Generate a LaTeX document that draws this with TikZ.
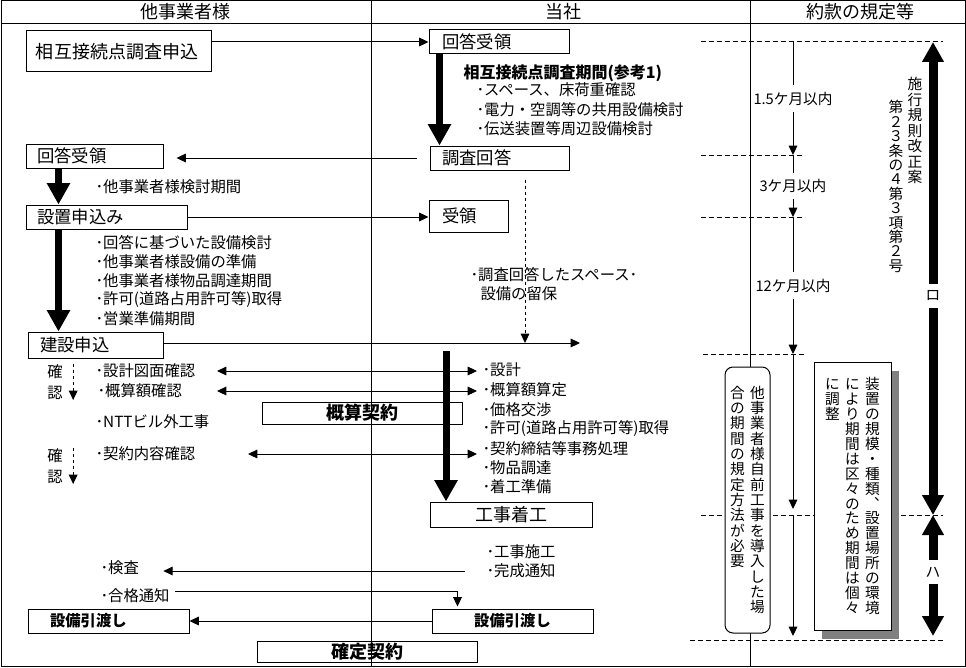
\documentclass[tikz,border=0pt]{standalone}
\usepackage{fontspec}
\setmainfont{Noto Sans CJK JP}
\usetikzlibrary{arrows.meta, positioning, shadows}

\newcommand\boxfont{\fontsize{13pt}{15pt}\selectfont}
\newcommand\bigboxfont{\fontsize{13.5pt}{16pt}\selectfont}
\newcommand\itemfont{\fontsize{11.5pt}{13pt}\selectfont}
\newcommand\notefont{\fontsize{11pt}{13pt}\selectfont}

% vertical (tategaki) column, one character per line
\makeatletter
\newcommand\tate[2][11.5pt]{\vtop{\baselineskip=#1\lineskip=0pt\lineskiplimit=-20pt\tate@#2\@nil}}
\def\tate@#1{\ifx#1\@nil\else\hbox to 1em{\hss#1\hss}\expandafter\tate@\fi}
\makeatother

\begin{document}
\begin{tikzpicture}[x=0.75pt, y=-0.75pt, line width=0.75pt,
  box/.style={draw, inner sep=0pt, font=\boxfont},
  lbox/.style={box, align=left},
  item/.style={anchor=west, inner sep=0pt, font=\itemfont},
  note/.style={inner xsep=1pt, inner ysep=5pt, font=\notefont},
  thinarr/.style={-{Triangle[length=7pt,width=6.5pt]}},
  dblarr/.style={{Triangle[length=7pt,width=6.5pt]}-{Triangle[length=7pt,width=6.5pt]}},
  bigarr/.style={line width=5.25pt, -{Triangle[length=16pt,width=16.5pt]}},
  rulearr/.style={line width=6.75pt, -{Triangle[length=15pt,width=15.5pt]}},
  dashline/.style={dash pattern=on 3.5pt off 2.5pt},
  dasharr/.style={thinarr, dash pattern=on 2.5pt off 2pt}]
  \useasboundingbox (0,0) rectangle (966,667);

  % Frame and columns
  \draw (1,1) rectangle (965,666);
  \draw (1,24) -- (965,24);
  \draw (371,1) -- (371,666);
  \draw (750,1) -- (750,666);
  \node[font=\bigboxfont] (h1) at (185,12) {他事業者様};
  \node[font=\bigboxfont] (h2) at (563,12) {当社};
  \node[font=\bigboxfont] (h3) at (860,12) {約款の規定等};

  % Boxes
  \node[lbox, font=\bigboxfont, text width=123.75pt, inner xsep=7.5pt, minimum height=30.75pt] (moshi) at (118.5,51.5) {相互接続点調査申込};
  \node[lbox, text width=85.5pt, inner xsep=9.75pt, minimum height=18pt] (uke1) at (499,42) {回答受領};
  \node[lbox, text width=86.25pt, inner xsep=9pt, minimum height=18pt] (chosa) at (499.5,158) {調査回答};
  \node[lbox, text width=86.25pt, inner xsep=8.25pt, minimum height=18pt] (uke2) at (94.5,156) {回答受領};
  \node[lbox, text width=104.25pt, inner xsep=8.25pt, minimum height=18pt] (setchi) at (106.5,217) {設置申込み};
  \node[lbox, text width=39.75pt, inner xsep=9.75pt, minimum height=24pt] (juryo) at (468.5,216) {受領};
  \node[lbox, text width=83.25pt, inner xsep=9pt, minimum height=19.5pt] (kensetsu) at (95.5,345) {建設申込};
  \node[box, font=\bigboxfont\bfseries, minimum width=150pt, minimum height=16.5pt] (gaisan) at (362,413) {概算契約};
  \node[box, font=\bigboxfont, minimum width=121.5pt, minimum height=18.75pt] (koji) at (511,514.5) {工事着工};
  \node[lbox, font=\itemfont\bfseries, text width=87.75pt, inner xsep=16.5pt, minimum height=18pt] (hiki1) at (108.5,621) {設備引渡し};
  \node[box, font=\itemfont\bfseries, minimum width=120.75pt, minimum height=18pt] (hiki2) at (512.5,621) {設備引渡し};
  \node[box, font=\bigboxfont\bfseries, minimum width=165pt, minimum height=15.75pt] (kakutei) at (367,651.5) {確定契約};

  % Items
  \node[item, font=\fontsize{12pt}{14pt}\selectfont\bfseries] (kikan) at (463,73) {相互接続点調査期間(参考1)};
  \node[item] (sp) at (476,90) {･スペース、床荷重確認};
  \node[item] (dr) at (476,110) {･電力・空調等の共用設備検討};
  \node[item] (dn) at (476,129) {･伝送装置等周辺設備検討};
  \node[item] (kento) at (95,187) {･他事業者様検討期間};
  \node[item] (k1) at (95,243) {･回答に基づいた設備検討};
  \node[item] (k2) at (95,262) {･他事業者様設備の準備};
  \node[item] (k3) at (95,281) {･他事業者様物品調達期間};
  \node[item] (k4) at (95,300) {･許可(道路占用許可等)取得};
  \node[item] (k5) at (95,319) {･営業準備期間};
  \node[item] (ryuho1) at (470,275) {･調査回答したスペース･};
  \node[item] (ryuho2) at (480,294) {設備の留保};
  \node[item] (zumen) at (95,371) {･設計図面確認};
  \node[item] (gaku) at (97,391) {･概算額確認};
  \node[item] (ntt) at (95,422) {･NTTビル外工事};
  \node[item] (naiyo) at (95,454) {･契約内容確認};
  \node[item] (sekkei) at (482,370) {･設計};
  \node[item] (santei) at (482,390) {･概算額算定};
  \node[item] (kakaku) at (482,410) {･価格交渉};
  \node[item] (kyoka) at (482,429) {･許可(道路占用許可等)取得};
  \node[item] (jimu) at (482,449) {･契約締結等事務処理};
  \node[item] (buppin) at (482,468) {･物品調達};
  \node[item] (chakko) at (482,487) {･着工準備};
  \node[item] (sekou) at (486,552) {･工事施工};
  \node[item] (kansei) at (486,571) {･完成通知};
  \node[item] (kensa) at (100,568) {･検査};
  \node[item] (goukaku) at (100,596) {･合格通知};
  \node[font=\itemfont, inner sep=0pt] (kaku1) at (55,382) {\tate[15.75pt]{確認}};
  \node[font=\itemfont, inner sep=0pt] (kaku2) at (55,466) {\tate[15.75pt]{確認}};

  % Flow
  \draw[thinarr] (moshi.east |- uke1.west) -- (uke1.west);
  \coordinate (m1) at ([xshift=8.25pt]uke1.south west);
  \draw[bigarr] (m1) -- (m1 |- chosa.north);
  \draw[thinarr, shorten <=9.75pt, shorten >=9.75pt] (chosa.west) -- (uke2.east |- chosa.west);
  \coordinate (a1) at ([xshift=24.75pt]uke2.south west);
  \draw[bigarr] (a1) -- (a1 |- setchi.north);
  \draw[thinarr] (setchi.east) -- (setchi.east -| juryo.west);
  \coordinate (a2) at ([xshift=24.75pt]setchi.south west);
  \draw[bigarr] (a2) -- (a2 |- kensetsu.north);
  \coordinate (kenend) at (580,343);
  \coordinate (ryuho) at (525,343);
  \draw[thinarr] (kensetsu.east |- kenend) -- (kenend);
  \draw[dasharr, shorten <=6.75pt] (ryuho |- chosa.south) -- (ryuho);
  \coordinate (c1) at (446,351);
  \draw[bigarr] (c1) -- (c1 |- koji.north);

  % Confirmations
  \coordinate (lx1) at (217,0);
  \coordinate (lx2) at (248,0);
  \coordinate (rx) at (477,0);
  \draw[dblarr] (lx1 |- zumen) -- (rx |- zumen);
  \draw[dblarr] (lx1 |- gaku) -- (rx |- gaku);
  \draw[dblarr] (lx2 |- naiyo) -- (rx |- naiyo);
  \draw[dasharr] ([xshift=7.5pt]kaku1.north east) -- ([xshift=7.5pt]kaku1.south east);
  \draw[dasharr] ([xshift=7.5pt]kaku2.north east) -- ([xshift=7.5pt]kaku2.south east);

  % Handover
  \draw[thinarr, shorten <=15.75pt, shorten >=18pt] (kansei.west) -- (kensa.east |- kansei.west);
  \draw[thinarr, shorten <=3.75pt, shorten >=1.5pt] ([yshift=3.75pt]goukaku.east) -| ([xshift=19.5pt]hiki2.north west);
  \draw[thinarr] (hiki2.west) -- (hiki1.east);

  % Rules column
  \draw[dashline] (701,42) -- (943,42);
  \draw[dashline] (701,155) -- (805,155);
  \draw[dashline] (701,217) -- (805,217);
  \draw[dashline] (703,354) -- (805,354);
  \draw[dashline] (701,515) -- (943,515);
  \draw[dashline] (690,640) -- (943,640);
  \coordinate (t1) at (793,42);
  \coordinate (t2) at (793,155);
  \coordinate (t3) at (793,217);
  \coordinate (t4) at (793,354);
  \coordinate (t5) at (793,509);
  \coordinate (t6) at (793,515);
  \coordinate (t7) at (793,636);
  \draw[thinarr] (t1) -- node[note, fill=white] (m15) {1.5ケ月以内} (t2);
  \draw[thinarr] (t2) -- node[note, fill=white] (m3) {3ケ月以内} (t3);
  \draw[thinarr] (t3) -- node[note, fill=white] (m12) {12ケ月以内} (t4);
  \draw[thinarr] (t4) -- (t5);
  \draw[thinarr] (t6) -- (t7);

  \node[draw, fill=white, rounded corners=6pt, minimum width=33.75pt, minimum height=199.5pt, inner sep=0pt, font=\notefont] (jimae) at (747.5,500)
    {\tate{合の期間の規定方法が必要}\hspace{4pt}\tate{他事業者様自前工事を導入した場}};
  \node[draw, fill=white, minimum width=57.75pt, minimum height=201pt, inner sep=0pt, font=\notefont,
    drop shadow={shadow xshift=6pt, shadow yshift=-6.5pt, fill=gray, opacity=1}] (kibo) at (852.5,496)
    {\tate[11.2pt]{に調整}\hspace{4pt}\tate[11.2pt]{により期間は区々のため期間は個々}\hspace{4pt}\tate[11.2pt]{装置の規模・種類︑設置場所の環境}};

  \node[inner sep=0pt, font=\notefont, anchor=north] (shiko) at (915,77) {\tate[11.6pt]{施行規則改正案}};
  \node[inner sep=0pt, font=\notefont, anchor=north] (dai) at (896,100) {\tate[10.8pt]{第２３条の４第３項第２号}};
  \node[note] (ro) at (933,296) {ロ};
  \node[note] (ha) at (933,572) {ハ};
  \coordinate (r1) at (933,42);
  \coordinate (r2) at (933,515);
  \coordinate (r3) at (933,636);
  \draw[rulearr] (ro.north) -- (r1);
  \draw[rulearr] (ro.south) -- (r2);
  \draw[rulearr] (ha.north) -- (r2);
  \draw[rulearr] (ha.south) -- (r3);
\end{tikzpicture}
\end{document}
